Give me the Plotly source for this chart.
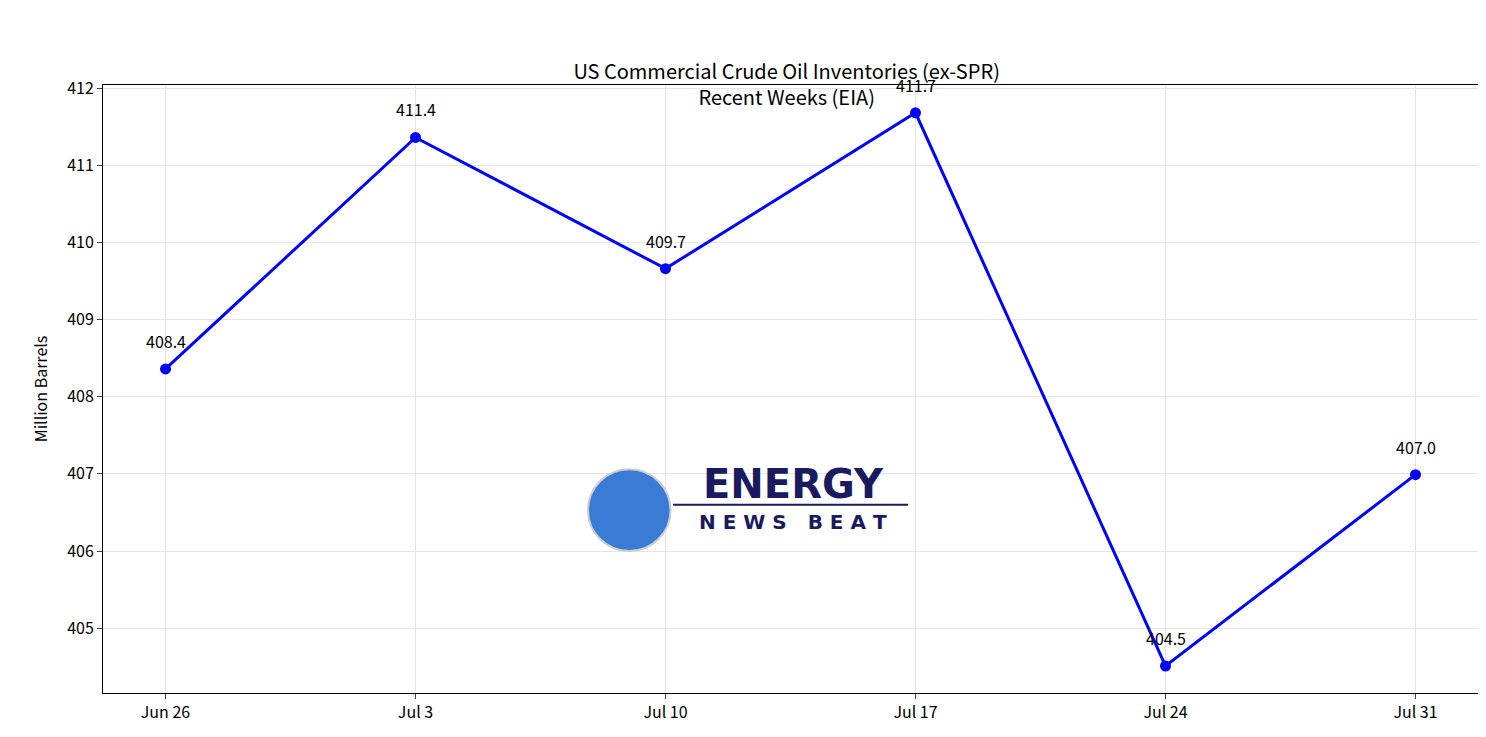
import plotly.graph_objects as go

weeks = ["Jun 26", "Jul 3", "Jul 10", "Jul 17", "Jul 24", "Jul 31"]
inventories = [408.36, 411.36, 409.66, 411.68, 404.51, 406.99]
labels = [f"{v:.1f}" for v in inventories]

FONT = "Noto Sans CJK SC"

fig = go.Figure()
fig.add_trace(go.Scatter(
    x=list(range(len(weeks))), y=inventories, mode="lines+markers",
    line=dict(color="#0000ff", width=3), marker=dict(color="#0000ff", size=11),
    cliponaxis=False, showlegend=False,
))

# value labels above each point
for i, (v, t) in enumerate(zip(inventories, labels)):
    fig.add_annotation(x=i, y=v, text=t, showarrow=False, yshift=28,
                       font=dict(size=16, color="black"))

# logo stand-in
fig.add_shape(type="circle", x0=1.69, x1=2.02, y0=406.0, y1=407.06, fillcolor="#3a7bd5",
              line=dict(color="#cccccc", width=2))
fig.add_annotation(x=2.51, y=406.87, text="<b>ENERGY</b>", showarrow=False,
                   font=dict(size=40, color="#1a1a5e", family="DejaVu Sans"))
fig.add_annotation(x=2.51, y=406.38, text="<b>N E W S   B E A T</b>", showarrow=False,
                   font=dict(size=20, color="#1a1a5e", family="DejaVu Sans"))
fig.add_shape(type="line", x0=2.03, x1=2.97, y0=406.6, y1=406.6, line=dict(color="#1a1a5e", width=2))

fig.update_layout(
    width=1486, height=737, plot_bgcolor="white", paper_bgcolor="white",
    margin=dict(l=95, r=16, t=77, b=52, autoexpand=False),
    font=dict(family=FONT, size=16, color="black"),
    title=dict(text="US Commercial Crude Oil Inventories (ex-SPR)<br>Recent Weeks (EIA)",
               x=0.524, xanchor="center", yref="paper", y=1, yanchor="bottom",
               pad=dict(b=6), font=dict(size=20)),
    xaxis=dict(range=[-0.25, 5.25], tickvals=list(range(len(weeks))), ticktext=weeks,
               showgrid=True, gridcolor="#e5e5e5", showline=True, linecolor="black", mirror=True,
               ticks="outside", zeroline=False, automargin=False),
    yaxis=dict(range=[404.16, 412.04], dtick=1, title=dict(text="Million Barrels", font=dict(size=16)),
               showgrid=True, gridcolor="#e5e5e5", showline=True, linecolor="black", mirror=True,
               ticks="outside", zeroline=False, automargin=False),
)

fig.write_html("out.html")
